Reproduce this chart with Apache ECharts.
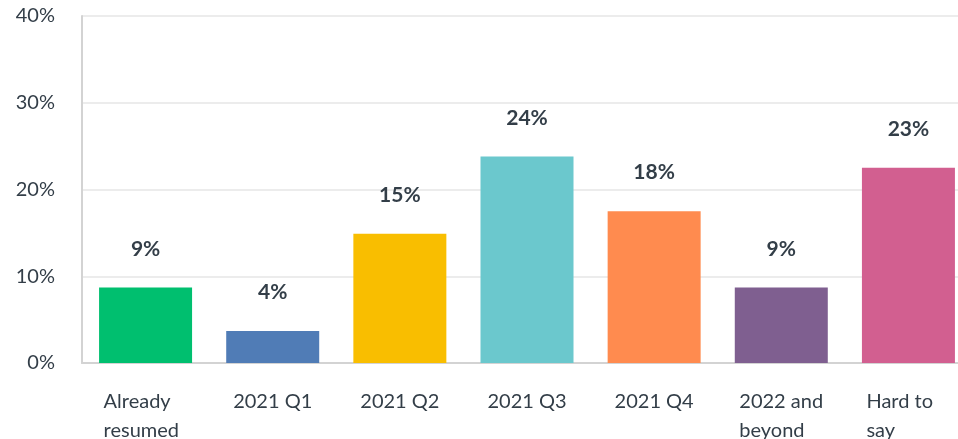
<!DOCTYPE html>
<html>
<head>
<meta charset="utf-8">
<script src="https://cdn.jsdelivr.net/npm/echarts@6/dist/echarts.min.js"></script>
<style>
  html, body { margin: 0; padding: 0; background: #fff; }
  #chart { width: 958px; height: 439px; }
</style>
</head>
<body>
<div id="chart"></div>
<script>
var categories = ['Already resumed', '2021 Q1', '2021 Q2', '2021 Q3', '2021 Q4', '2022 and beyond', 'Hard to say'];
var categoryLines = [['Already', 'resumed'], ['2021 Q1'], ['2021 Q2'], ['2021 Q3'], ['2021 Q4'], ['2022 and', 'beyond'], ['Hard to', 'say']];
var values = [8.7, 3.7, 14.9, 23.8, 17.5, 8.7, 22.5];
var barColors = ['#00bf6f', '#507cb6', '#f9be00', '#6bc8cd', '#ff8b4f', '#7f5f90', '#d25f90'];
var yTicks = [0, 10, 20, 30, 40];

var textColor = '#333e48';
var fontFamily = 'Lato, "Noto Sans", sans-serif';

var chart = echarts.init(document.getElementById('chart'));

var option = {
  animation: false,
  grid: { left: 82, right: -14, top: 16, bottom: 76, outerBoundsMode: 'none', containLabel: false },
  xAxis: {
    type: 'category',
    data: categories,
    axisTick: { show: false },
    axisLine: { lineStyle: { color: '#d3d3d3', width: 2 } },
    axisLabel: {
      margin: 24,
      interval: 0,
      color: textColor,
      fontFamily: fontFamily,
      fontSize: 20,
      lineHeight: 29,
      formatter: function (v, i) {
        var lines = categoryLines[i];
        if (lines.length === 1) return lines[0];
        return lines.map(function (l) { return '{l|' + l + '}'; }).join('\n');
      },
      rich: {
        l: { width: 84, align: 'left', color: textColor, fontFamily: fontFamily, fontSize: 20, lineHeight: 29 }
      }
    }
  },
  yAxis: {
    type: 'value',
    min: yTicks[0],
    max: yTicks[yTicks.length - 1],
    interval: 10,
    axisLine: { show: true, lineStyle: { color: '#d3d3d3', width: 2 } },
    axisTick: { show: false },
    splitLine: { lineStyle: { color: '#ececec', width: 2 } },
    axisLabel: {
      margin: 27,
      color: textColor,
      fontFamily: fontFamily,
      fontSize: 20,
      formatter: '{value}%'
    }
  },
  series: [{
    type: 'bar',
    barWidth: 93,
    data: values.map(function (v, i) {
      return { value: v, itemStyle: { color: barColors[i] } };
    }),
    label: {
      show: true,
      position: 'top',
      distance: 28,
      color: textColor,
      fontFamily: fontFamily,
      fontSize: 21,
      fontWeight: 'bold',
      formatter: function (p) { return Math.round(p.value) + '%'; }
    }
  }]
};

chart.setOption(option);
</script>
</body>
</html>
